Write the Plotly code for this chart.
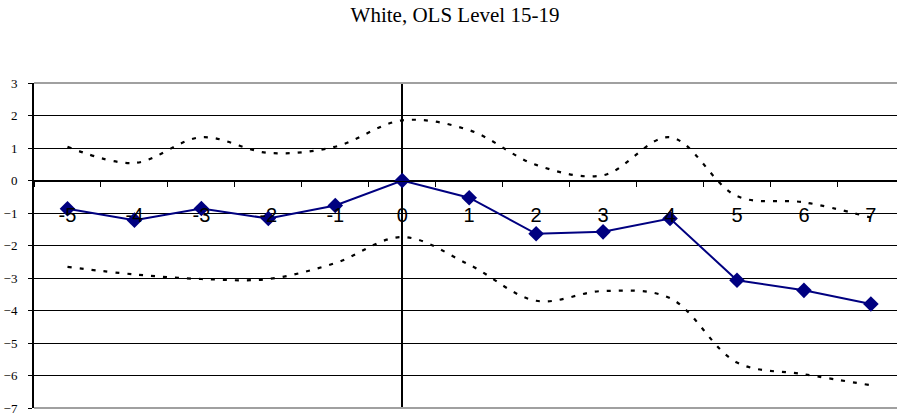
import plotly.graph_objects as go

periods = [-5, -4, -3, -2, -1, 0, 1, 2, 3, 4, 5, 6, 7]
coef = [-0.87, -1.22, -0.86, -1.17, -0.77, 0.0, -0.53, -1.64, -1.58, -1.17, -3.07, -3.38, -3.80]
upper = [1.04, 0.54, 1.33, 0.85, 1.04, 1.85, 1.55, 0.48, 0.16, 1.33, -0.48, -0.67, -1.14]
lower = [-2.66, -2.89, -3.03, -3.03, -2.54, -1.74, -2.59, -3.70, -3.40, -3.62, -5.60, -5.96, -6.30]
y_ticks = [3, 2, 1, 0, -1, -2, -3, -4, -5, -6, -7]
title_text = "White, OLS Level 15-19"

SERIF = "Liberation Serif, Times New Roman, serif"
SANS = "Liberation Sans, Arial, sans-serif"

fig = go.Figure()
for band in (upper, lower):
    fig.add_trace(go.Scatter(
        x=periods, y=band, mode="lines",
        line=dict(color="black", width=2.2, dash="4px,8px", shape="spline", smoothing=1),
        hoverinfo="skip", showlegend=False,
    ))
fig.add_trace(go.Scatter(
    x=periods, y=coef, mode="lines+markers",
    line=dict(color="#000080", width=2),
    marker=dict(symbol="diamond", size=12, color="#000080"),
    showlegend=False,
))

fig.update_layout(
    width=897, height=417,
    margin=dict(l=34, r=0, t=83, b=9),
    paper_bgcolor="white", plot_bgcolor="white",
    title=dict(text=title_text, x=455/897, xanchor="center", xref="container",
               y=1 - 15/417, yanchor="middle", yref="container",
               font=dict(family=SERIF, size=21, color="black")),
    xaxis=dict(
        range=[-5.5, 7.39], tickvals=periods, ticktext=[str(p) for p in periods],
        ticks="", showgrid=False,
        tickfont=dict(family=SANS, size=20, color="black"),
        ticklabelstandoff=16,
        showline=True, linecolor="black", linewidth=1,
        anchor="free", position=0.7,
        zeroline=True, zerolinecolor="black", zerolinewidth=2,
        minor=dict(tick0=0.5, dtick=1, ticks="outside", ticklen=5, tickcolor="black", tickwidth=1),
    ),
    yaxis=dict(
        range=[-7, 3], tickvals=y_ticks, ticks="outside", ticklen=4, tickcolor="black",
        showgrid=True, gridcolor="black", gridwidth=1,
        zeroline=False,
        showline=True, linecolor="black", linewidth=2,
        tickfont=dict(family=SERIF, size=13, color="black"),
        ticklabelstandoff=8,
    ),
    shapes=[
        dict(type="line", xref="x domain", yref="y domain", x0=0, x1=1, y0=1, y1=1,
             line=dict(color="#a0a0a0", width=2)),
        dict(type="line", xref="x domain", yref="y domain", x0=0, x1=1, y0=0, y1=0,
             line=dict(color="#a0a0a0", width=2)),
    ],
)

fig.write_html("out.html")
